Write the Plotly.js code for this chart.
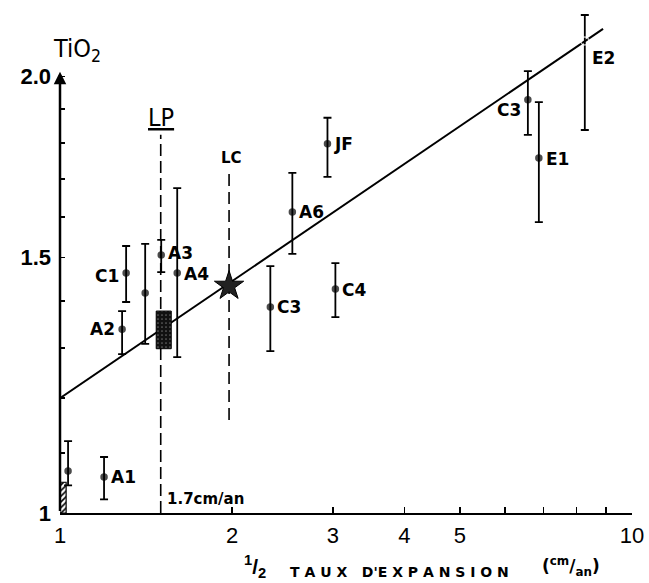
<!DOCTYPE html>
<html>
<head>
<meta charset="utf-8">
<script src="https://cdn.plot.ly/plotly-3.0.1.min.js"></script>
<style>html,body{margin:0;padding:0;background:#fff;}#chart{width:649px;height:583px;}</style>
</head>
<body>
<div id="chart"></div>
<script>
// ---- data ----
const xVals    = [1.033, 1.194, 1.284, 1.305, 1.409, 1.503, 1.603, 2.332, 2.548, 2.935, 3.03, 6.576, 6.873, 8.27];
const yVals    = [1.069, 1.059, 1.339, 1.464, 1.418, 1.506, 1.464, 1.387, 1.613, 1.797, 1.427, 1.927, 1.757, 2.116];
const yHigh    = [1.121, 1.093, 1.378, 1.528, 1.533, 1.543, 1.675, 1.480, 1.716, 1.873, 1.487, 2.017, 1.920, 2.205];
const yLow     = [1.045, 1.022, 1.287, 1.398, 1.308, 1.466, 1.281, 1.293, 1.509, 1.705, 1.365, 1.823, 1.587, 1.837];
const ptLabels = ['', 'A1', 'A2', 'C1', '', 'A3', 'A4', 'C3', 'A6', 'JF', 'C4', 'C3', 'E1', 'E2'];

const fitX = [1, 8.9];
const fitY = [1.2, 2.157];

const starX = [1.975];
const starY = [1.434];

const lpBoxX = [1.473, 1.565];
const lpBoxY = [1.298, 1.378];
const smallBoxX = [1.0, 1.025];
const smallBoxY = [1.0, 1.05];

const lpLineX = [1.5, 1.5];
const lpLineY = [1.0, 1.823];
const lcLineX = [1.975, 1.975];
const lcLineY = [1.159, 1.716];

const xTickVals = [1, 2, 3, 4, 5, 10];
const xTickText = ['1', '2', '3', '4', '5', '10'];
const xMinorVals = [6, 7, 8, 9];
const yTickVals = [1.0, 1.5, 2.0];
const yTickText = ['1', '1.5', '2.0'];
const yMinorVals = [1.1, 1.2, 1.3, 1.4, 1.6, 1.7, 1.8, 1.9];

// ---- styling / placement (not data) ----
const labelSide   = ['', 'right', 'left', 'left', '', 'right', 'right', 'right', 'right', 'right', 'right', 'left', 'right', 'right'];
const labelYShift = [0, 0, 0, -3, 0, 2, -1, 0, 0, 0, -1, -10, -1, -17];
const openMarker  = [false, false, false, false, false, false, false, false, false, false, false, false, false, true];

const labFont = {family: 'DejaVu Sans, sans-serif', size: 17, color: '#000', weight: 'bold'};
const narrowFont = 'Liberation Sans Narrow, DejaVu Sans Condensed, sans-serif';
const L = Math.log10;

function rectPath(xs, ys) {
  return {x: [xs[0], xs[1], xs[1], xs[0], xs[0]], y: [ys[0], ys[0], ys[1], ys[1], ys[0]]};
}

const traces = [];
traces.push({x: fitX, y: fitY, mode: 'lines', line: {color: '#000', width: 2}, hoverinfo: 'skip'});
traces.push({x: lpLineX, y: lpLineY, mode: 'lines', line: {color: '#000', width: 1.6, dash: '12px,5px'}, hoverinfo: 'skip'});
traces.push({x: lcLineX, y: lcLineY, mode: 'lines', line: {color: '#000', width: 1.6, dash: '12px,6px'}, hoverinfo: 'skip'});
const lpR = rectPath(lpBoxX, lpBoxY);
traces.push({x: lpR.x, y: lpR.y, mode: 'lines', fill: 'toself', fillcolor: '#111',
  fillpattern: {shape: '.', bgcolor: '#111', fgcolor: '#666', size: 4, solidity: 0.15},
  line: {color: '#000', width: 1}, hoverinfo: 'skip'});
const sbR = rectPath(smallBoxX, smallBoxY);
traces.push({x: sbR.x, y: sbR.y, mode: 'lines', fill: 'toself', fillcolor: '#fff',
  fillpattern: {shape: '/', bgcolor: '#fff', fgcolor: '#000', size: 4, solidity: 0.4},
  line: {color: '#000', width: 1.2}, hoverinfo: 'skip'});
traces.push({
  x: xVals, y: yVals, mode: 'markers',
  marker: {
    color: openMarker.map(o => o ? '#fff' : '#000'),
    symbol: openMarker.map(o => o ? 'circle-open' : 'circle'),
    size: openMarker.map(o => o ? 8 : 6),
    line: {color: '#000', width: 1.5}
  },
  error_y: {type: 'data', symmetric: false,
    array: yHigh.map((h, i) => h - yVals[i]),
    arrayminus: yLow.map((l, i) => yVals[i] - l),
    color: '#000', thickness: 1.8, width: 4},
  hoverinfo: 'skip'
});
traces.push({x: starX, y: starY, mode: 'markers',
  marker: {symbol: 'star', size: 22, color: '#222', line: {color: '#000', width: 1}}, hoverinfo: 'skip'});

const annotations = [];
ptLabels.forEach((t, i) => {
  if (!t) return;
  const right = labelSide[i] === 'right';
  annotations.push({
    x: L(xVals[i]), y: L(yVals[i]), xref: 'x', yref: 'y', text: '<b>' + t + '</b>',
    showarrow: false, xanchor: right ? 'left' : 'right', yanchor: 'middle',
    xshift: right ? 5 : -5, yshift: labelYShift[i], font: labFont
  });
});
// y axis drawn as an arrow
annotations.push({x: 0, y: L(2.015), ax: 0, ay: 0, xref: 'x', yref: 'y', axref: 'x', ayref: 'y',
  text: ' ', showarrow: true, arrowhead: 2, arrowsize: 1, arrowwidth: 2.5, arrowcolor: '#000', standoff: 0, startstandoff: 0,
  font: {size: 1}});
annotations.push({x: L(lpLineX[0]), y: L(lpLineY[1]), xref: 'x', yref: 'y', text: '<u>LP</u>', showarrow: false,
  yanchor: 'bottom', yshift: 1, font: {family: narrowFont, size: 25, color: '#000', stretch: 'condensed'}});
annotations.push({x: L(lcLineX[0]), y: L(lcLineY[1]), xref: 'x', yref: 'y', text: '<b>LC</b>', showarrow: false,
  yanchor: 'bottom', yshift: 4, xshift: 2, font: {family: 'DejaVu Sans, sans-serif', size: 15, color: '#000'}});
annotations.push({x: L(lpLineX[0]), y: L(1.0), xref: 'x', yref: 'y', text: '<b>1.7cm/an</b>', showarrow: false,
  xanchor: 'left', yanchor: 'middle', xshift: 4, yshift: 14, font: {family: 'DejaVu Sans, sans-serif', size: 15, color: '#000'}});
annotations.push({x: 0.075, y: 0.912, xref: 'paper', yref: 'paper', text: 'TiO<sub>2</sub>', showarrow: false,
  xanchor: 'right', yanchor: 'middle', font: {family: narrowFont, size: 25, color: '#000', stretch: 'condensed'}});
annotations.push({x: 0.341, y: -0.106, xref: 'paper', yref: 'paper', text: '<b><sup>1</sup>/<sub>2</sub></b>', showarrow: false,
  xanchor: 'center', yanchor: 'middle', font: {family: 'Liberation Sans, sans-serif', size: 21, color: '#000'}});
annotations.push({x: 0.594, y: -0.116, xref: 'paper', yref: 'paper', text: '<b>T A U X   D\'E X P A N S I O N</b>', showarrow: false,
  xanchor: 'center', yanchor: 'middle', font: {family: 'DejaVu Sans, sans-serif', size: 14, color: '#000'}});
annotations.push({x: 0.893, y: -0.106, xref: 'paper', yref: 'paper', text: '<b>(<sup>cm</sup>/<sub>an</sub>)</b>', showarrow: false,
  xanchor: 'center', yanchor: 'middle', font: {family: 'DejaVu Sans, sans-serif', size: 17, color: '#000'}});

const layout = {
  width: 649, height: 583,
  margin: {l: 60, r: 17, t: 5, b: 70, pad: 0},
  paper_bgcolor: '#fff', plot_bgcolor: '#fff',
  showlegend: false,
  xaxis: {type: 'log', range: [0, 1], showgrid: false, zeroline: false,
    showline: true, linecolor: '#000', linewidth: 1.6,
    tickmode: 'array', tickvals: xTickVals, ticktext: xTickText,
    ticks: 'inside', ticklen: 6, tickwidth: 1.5, tickcolor: '#000',
    minor: {tickmode: 'array', tickvals: xMinorVals, ticks: 'inside', ticklen: 6, tickwidth: 1.5, tickcolor: '#000', showgrid: false},
    tickfont: {family: 'Liberation Sans, sans-serif', size: 22, color: '#000'}, ticklabelstandoff: 2},
  yaxis: {type: 'log', range: [0, 0.3503], showgrid: false, zeroline: false, showline: false,
    tickmode: 'array', tickvals: yTickVals, ticktext: yTickText,
    ticks: 'inside', ticklen: 5, tickwidth: 1.5, tickcolor: '#000',
    minor: {tickmode: 'array', tickvals: yMinorVals, ticks: 'inside', ticklen: 5, tickwidth: 1.5, tickcolor: '#000', showgrid: false},
    tickfont: {family: 'Liberation Sans, sans-serif', size: 22, color: '#000', weight: 'bold'}, ticklabelstandoff: 8},
  annotations: annotations
};

Plotly.newPlot('chart', traces, layout, {staticPlot: true, displayModeBar: false});
</script>
</body>
</html>
